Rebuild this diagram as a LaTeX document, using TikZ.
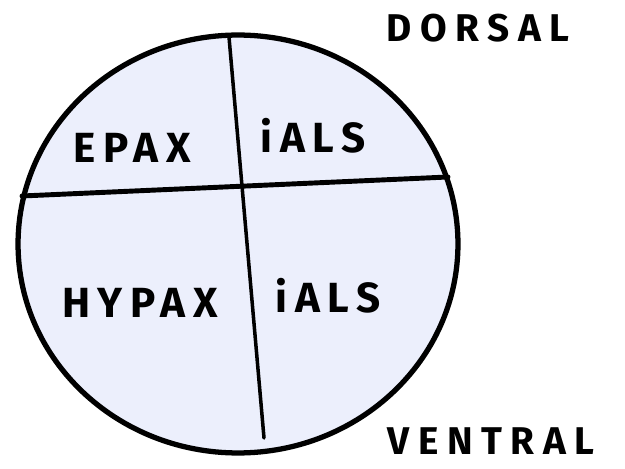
\documentclass[tikz,border=0pt]{standalone}
\usepackage{fontspec}
\setmainfont{Fira Sans}
\usetikzlibrary{shapes.geometric}
\definecolor{musclefill}{RGB}{236,239,252}
\tikzset{
    body/.style = {ellipse, draw, line width=3pt, fill=musclefill, minimum width=8.8cm, minimum height=8.36cm, inner sep=0pt},
    septum/.style = {line width=2.8pt, line cap=round},
    hand/.style = {font=\fontsize{24}{24}\selectfont\bfseries\addfontfeatures{LetterSpace=18}, inner sep=0pt},
    side/.style = {font=\fontsize{22}{22}\selectfont\bfseries\addfontfeatures{LetterSpace=22}, inner sep=0pt}
}

\begin{document}
\begin{tikzpicture}[x=0.02cm, y=-0.02cm]
\useasboundingbox (0,0) rectangle (625,469);

% Cross-section
\node[body] (trunk) at (238,244) {};

% Horizontal septum
\coordinate (hL) at (22,196);
\coordinate (hR) at (448,177);
% Vertical septum
\coordinate (vT) at (229,37);
\coordinate (vB) at (264,438);

\draw[septum] (hL) -- (hR);
\draw[septum, line width=2pt] (vT) -- (vB);

% Upper quadrants
\node[hand] (epa) at (132,148) {EPAX};
\node[hand] (epb) at (313,136) {iALS};

% Lower quadrants
\node[hand] (hya) at (140,303) {HYPAX};
\node[hand] (hyb) at (328,296) {iALS};

% Orientation
\node[side] (dor) at (478,28) {DORSAL};
\node[side] (ven) at (491,441) {VENTRAL};
\end{tikzpicture}
\end{document}
